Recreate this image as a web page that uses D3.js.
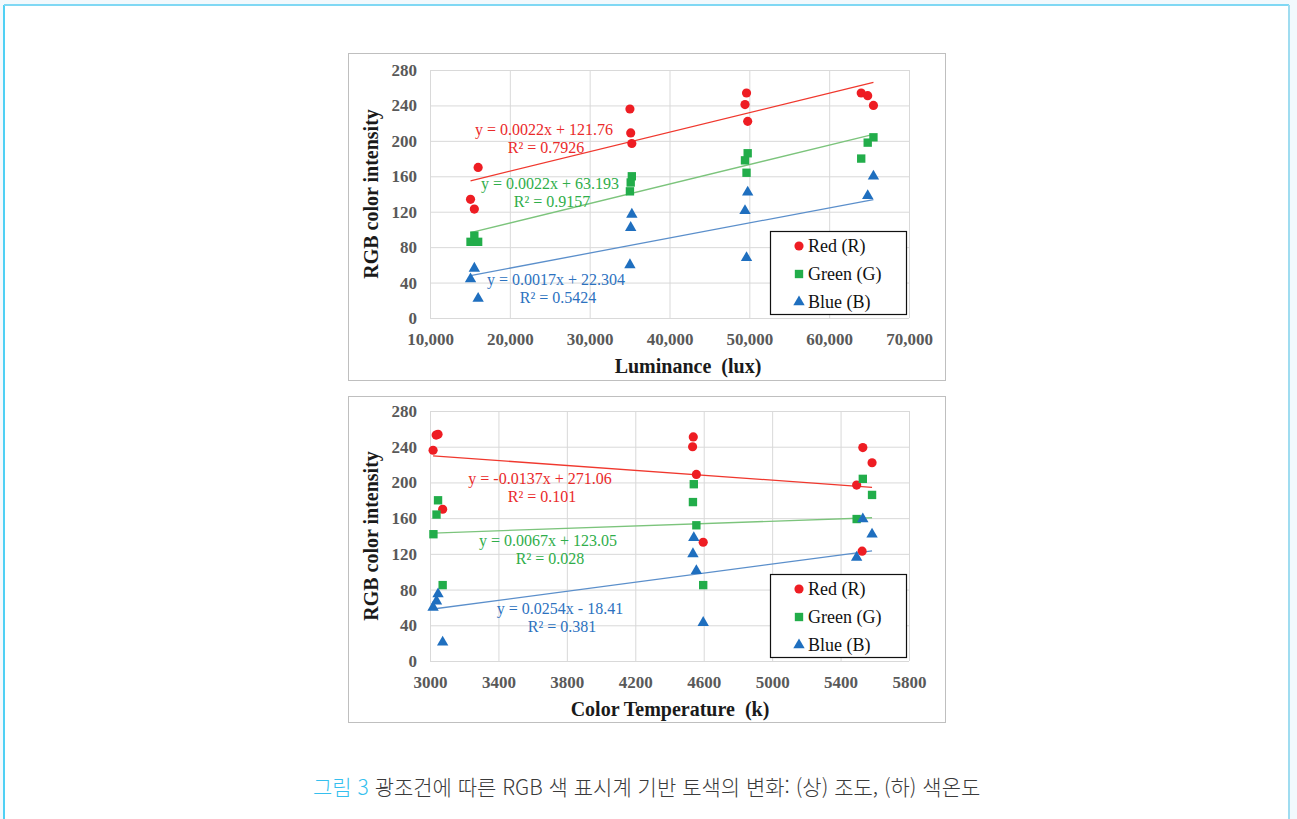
<!DOCTYPE html>
<html lang="ko">
<head>
<meta charset="UTF-8" />
<title>RGB color intensity</title>
<script src="https://d3js.org/d3.v7.min.js"></script>
<style>
  html, body { margin: 0; padding: 0; background: #f2f9fd; }
  svg { display: block; }
  .tick text { font-family: "Liberation Serif", serif; font-weight: bold; font-size: 17px; fill: #595959; }
  .grid line { stroke: #d9d9d9; stroke-width: 1; }
  .grid .domain { display: none; }
</style>
</head>
<body>
<svg width="1297" height="819"></svg>
<script>
// ---- data ----
const yTicks = [0, 40, 80, 120, 160, 200, 240, 280];
const luxTicks = [10000, 20000, 30000, 40000, 50000, 60000, 70000];
const tempTicks = [3000, 3400, 3800, 4200, 4600, 5000, 5400, 5800];
const seriesNames = ["Red (R)", "Green (G)", "Blue (B)"];

// luminance (lux) vs intensity
const luxRed = [[15076, 134], [15554, 123], [16030, 170], [35044, 236], [35140, 209], [35283, 197],
  [49649, 254], [49457, 241], [49793, 222], [64014, 254], [64828, 251], [65546, 240]];
const luxGreen = [[15076, 86], [15554, 93], [16030, 86], [35283, 160], [35140, 153], [35044, 143],
  [49793, 186], [49457, 178], [49649, 164], [64014, 180], [64828, 198], [65546, 204]];
const luxBlue = [[15554, 56], [15076, 44], [16030, 22], [35283, 117], [35140, 102], [35044, 60],
  [49793, 142], [49457, 121], [49649, 68], [65546, 160], [64828, 138]];
const luxTrend = [[0.0022, 121.76], [0.0022, 63.193], [0.0017, 22.304]];
const luxEq = ["y = 0.0022x + 121.76", "y = 0.0022x + 63.193", "y = 0.0017x + 22.304"];
const luxR2 = ["R² = 0.7926", "R² = 0.9157", "R² = 0.5424"];

// color temperature (k) vs intensity
const tempRed = [[3018, 236], [3036, 253], [3047, 254], [3074, 170], [4535, 240], [4539, 251],
  [4557, 209], [4597, 133], [5494, 197], [5530, 239], [5584, 222], [5526, 123]];
const tempGreen = [[3020, 142], [3038, 164], [3047, 180], [3074, 85], [4537, 178], [4542, 198],
  [4557, 152], [4597, 85], [5494, 159], [5530, 204], [5584, 186]];
const tempBlue = [[3018, 60], [3038, 67], [3047, 75], [3074, 21], [4537, 120], [4542, 138],
  [4557, 101], [4597, 43], [5494, 116], [5530, 159], [5584, 142]];
const tempTrend = [[-0.0137, 271.06], [0.0067, 123.05], [0.0254, -18.41]];
const tempEq = ["y = -0.0137x + 271.06", "y = 0.0067x + 123.05", "y = 0.0254x - 18.41"];
const tempR2 = ["R² = 0.101", "R² = 0.028", "R² = 0.381"];

// ---- styles ----
const markColors = ["#ee1d23", "#22ad4a", "#1f6fbf"];
const lineColors = ["#f0382e", "#7cc47c", "#5b8fcb"];
const textColors = ["#ea2a2a", "#2fae4a", "#2c72bf"];
const symbols = [d3.symbolCircle, d3.symbolSquare, d3.symbolTriangle];
const symSizes = [66, 70, 56];
const serif = "'Liberation Serif', 'Times New Roman', serif";

const svg = d3.select("svg");

// outer frame
svg.append("rect").attr("x", 4).attr("y", 5).attr("width", 1285).attr("height", 840).attr("fill", "#fff");
svg.append("line").attr("x1", 4).attr("x2", 4).attr("y1", 5).attr("y2", 819).attr("stroke", "#4fd0f4").attr("stroke-width", 2);
svg.append("line").attr("x1", 4).attr("x2", 1289).attr("y1", 5).attr("y2", 5).attr("stroke", "#7fd8f4").attr("stroke-width", 2);
svg.append("line").attr("x1", 1289).attr("x2", 1289).attr("y1", 5).attr("y2", 819).attr("stroke", "#9fdcf0").attr("stroke-width", 2);

function drawChart(cfg) {
  const g = svg.append("g");
  g.append("rect").attr("x", cfg.box[0] + 0.5).attr("y", cfg.box[1] + 0.5)
    .attr("width", cfg.box[2]).attr("height", cfg.box[3])
    .attr("fill", "#fff").attr("stroke", "#bfbfbf");

  const x = d3.scaleLinear().domain(d3.extent(cfg.xTicks)).range([cfg.plot.left, cfg.plot.right]);
  const y = d3.scaleLinear().domain([0, 280]).range([cfg.plot.bottom, cfg.plot.top]);

  // gridlines
  g.append("g").attr("class", "grid")
    .attr("transform", `translate(0,${cfg.plot.bottom})`)
    .call(d3.axisBottom(x).tickValues(cfg.xTicks).tickSize(-(cfg.plot.bottom - cfg.plot.top)).tickFormat(""));
  g.append("g").attr("class", "grid")
    .attr("transform", `translate(${cfg.plot.left},0)`)
    .call(d3.axisLeft(y).tickValues(yTicks).tickSize(-(cfg.plot.right - cfg.plot.left)).tickFormat(""));

  // tick labels
  const xa = g.append("g").attr("transform", `translate(0,${cfg.plot.bottom})`)
    .call(d3.axisBottom(x).tickValues(cfg.xTicks).tickSize(0).tickPadding(15).tickFormat(cfg.xFormat));
  const ya = g.append("g").attr("transform", `translate(${cfg.plot.left},0)`)
    .call(d3.axisLeft(y).tickValues(yTicks).tickSize(0).tickPadding(13));
  xa.select(".domain").remove();
  ya.select(".domain").remove();

  // trendlines
  cfg.series.forEach((s, i) => {
    const [m, b] = cfg.trend[i];
    const ext = d3.extent(s, (d) => d[0]);
    g.append("line")
      .attr("x1", x(ext[0])).attr("y1", y(m * ext[0] + b))
      .attr("x2", x(ext[1])).attr("y2", y(m * ext[1] + b))
      .attr("stroke", lineColors[i]).attr("stroke-width", 1.3);
  });

  // points
  cfg.series.forEach((s, i) => {
    g.append("g").selectAll("path").data(s).join("path")
      .attr("d", d3.symbol(symbols[i], symSizes[i]))
      .attr("transform", (d) => `translate(${x(d[0])},${y(d[1])})`)
      .attr("fill", markColors[i]);
  });

  // equation labels
  cfg.eq.forEach((t, i) => {
    const [lx, ly] = cfg.labelPos[i];
    const txt = g.append("text").attr("text-anchor", "middle")
      .attr("font-family", serif).attr("font-size", 16).attr("fill", textColors[i]);
    txt.append("tspan").attr("x", lx).attr("y", ly).text(t);
    txt.append("tspan").attr("x", lx + 2).attr("y", ly + 18).text(cfg.r2[i]);
  });

  // legend
  const L = cfg.legend;
  g.append("rect").attr("x", L[0] + 0.5).attr("y", L[1] + 0.5).attr("width", 136).attr("height", 83)
    .attr("fill", "#fff").attr("stroke", "#111").attr("stroke-width", 1.2);
  seriesNames.forEach((n, i) => {
    const ry = L[1] + 15 + i * 28;
    g.append("path").attr("d", d3.symbol(symbols[i], symSizes[i]))
      .attr("transform", `translate(${L[0] + 29},${ry})`).attr("fill", markColors[i]);
    g.append("text").attr("x", L[0] + 38).attr("y", ry + 6)
      .attr("font-family", serif).attr("font-size", 18).attr("fill", "#111").text(n);
  });

  // axis titles
  g.append("text")
    .attr("transform", `translate(${cfg.box[0] + 30},${(cfg.plot.top + cfg.plot.bottom) / 2}) rotate(-90)`)
    .attr("text-anchor", "middle").attr("font-family", serif).attr("font-weight", "bold")
    .attr("font-size", 20).attr("fill", "#1a1a1a").text("RGB color intensity");
  g.append("text").attr("x", cfg.titleX).attr("y", cfg.plot.bottom + 55)
    .attr("text-anchor", "middle").attr("font-family", serif).attr("font-weight", "bold")
    .attr("font-size", 20).attr("fill", "#1a1a1a").attr("xml:space", "preserve").text(cfg.xTitle);
}

drawChart({
  box: [348, 53, 597, 327],
  plot: { left: 430, right: 909, top: 70, bottom: 318 },
  xTicks: luxTicks, xFormat: d3.format(","),
  series: [luxRed, luxGreen, luxBlue], trend: luxTrend, eq: luxEq, r2: luxR2,
  labelPos: [[544, 135], [550, 189], [556, 285]],
  legend: [770, 231],
  xTitle: "Luminance  (lux)", titleX: 688
});

drawChart({
  box: [348, 396, 597, 326],
  plot: { left: 430, right: 909, top: 411, bottom: 661 },
  xTicks: tempTicks, xFormat: d3.format("d"),
  series: [tempRed, tempGreen, tempBlue], trend: tempTrend, eq: tempEq, r2: tempR2,
  labelPos: [[540, 484], [548, 546], [560, 614]],
  legend: [770, 574],
  xTitle: "Color Temperature  (k)", titleX: 670
});

// caption
const cap = svg.append("text").attr("x", 313).attr("y", 795)
  .attr("font-family", "'Noto Sans CJK KR', 'Noto Sans', sans-serif").attr("font-size", 21).attr("font-weight", 300);
cap.append("tspan").attr("fill", "#35bfee").text("그림 3 ");
cap.append("tspan").attr("fill", "#3a3a3a").text("광조건에 따른 RGB 색 표시계 기반 토색의 변화: (상) 조도, (하) 색온도");
</script>
</body>
</html>
